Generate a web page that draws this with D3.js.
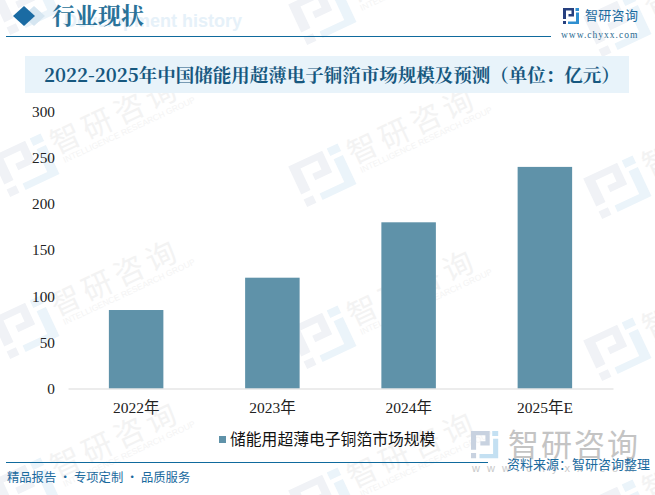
<!DOCTYPE html>
<html>
<head>
<meta charset="utf-8">
<script src="https://cdn.jsdelivr.net/npm/d3@7"></script>
<style>
html, body { margin: 0; padding: 0; background: #fff; }
svg { display: block; }
</style>
</head>
<body>
<svg id="chart" width="655" height="495"></svg>
<script>
const categories = ['2022年', '2023年', '2024年', '2025年E'];
const marketSize = [85, 120, 180, 240];
const yTicks = [0, 50, 100, 150, 200, 250, 300];
const seriesName = '储能用超薄电子铜箔市场规模';
const chartTitle = '2022-2025年中国储能用超薄电子铜箔市场规模及预测（单位：亿元）';
const footerLeft = '精品报告 · 专项定制 · 品质服务';
const footerRight = '资料来源：智研咨询整理';
const watermarkSpots = [[25, 3], [322, 13], [617, 25], [25, 165], [322, 175], [617, 187], [25, 327], [322, 337], [617, 349], [25, 489], [322, 499], [617, 511]];

const serif = '"Noto Serif CJK SC", "Liberation Serif", "DejaVu Serif", "Noto Sans CJK SC", serif';
const sans = '"Noto Sans CJK SC", "Noto Sans", sans-serif';
const blue = '#1a6a9e';

// logo pieces on a 16x16 grid
const logoDark = 'M0,0 H11 V8.5 H5.5 V6 H8.5 V2.5 H3 V11 H0 Z M0,13 H3 V16 H0 Z';
const logoBlue = 'M12.5,0 H16 V3 H12.5 Z M13,4.5 H16 V16 H5 V13.5 H13 Z';

const svg = d3.select('#chart');

function drawLogo(parent, x, y, sx, sy, darkColor, blueColor) {
    const g = parent.append('g').attr('transform', `translate(${x},${y}) scale(${sx},${sy})`);
    g.append('path').attr('d', logoDark).attr('fill', darkColor);
    g.append('path').attr('d', logoBlue).attr('fill', blueColor);
}

// watermark, drawn first so everything sits on top
const marks = svg.append('g').selectAll('g')
    .data(watermarkSpots)
    .enter()
    .append('g')
    .attr('transform', d => `translate(${d[0]},${d[1]}) rotate(-25)`);
marks.each(function() {
    drawLogo(d3.select(this), -27, -22, 3.4, 2.8, '#f0f2f6', '#ebf4fa');
});
marks.append('text')
    .text('智研咨询')
    .attr('x', 33)
    .attr('y', 4)
    .attr('font-family', sans)
    .attr('font-size', 30)
    .attr('letter-spacing', 5)
    .attr('fill', '#f3f3f3');
marks.append('text')
    .text('INTELLIGENCE RESEARCH GROUP')
    .attr('x', 37)
    .attr('y', 15)
    .attr('font-family', 'Liberation Sans')
    .attr('font-size', 8.5)
    .attr('fill', '#f4f4f4');

// header
svg.append('text').text('Development history')
    .attr('x', 242).attr('y', 27)
    .attr('text-anchor', 'end')
    .attr('font-family', 'Liberation Sans').attr('font-weight', 'bold').attr('font-size', 18)
    .attr('fill', '#e6f1f9');
svg.append('path').attr('d', 'M34,6 L45,16 L34,26 L23,16 Z').attr('fill', '#d6e6f1');
svg.append('path').attr('d', 'M24,6 L35,16 L24,26 L13,16 Z').attr('fill', '#1a6ba3');
svg.append('text').text('行业现状')
    .attr('x', 52).attr('y', 24)
    .attr('font-family', serif).attr('font-weight', 'bold').attr('font-size', 23)
    .attr('fill', '#2a7299');
svg.append('line').attr('x1', 6).attr('x2', 551).attr('y1', 36.5).attr('y2', 36.5)
    .attr('stroke', '#0f6a9d').attr('stroke-width', 1);

// logo top right
drawLogo(svg, 563, 8, 1, 1, '#27407f', '#2f8fd0');
svg.append('text').text('智研咨询')
    .attr('x', 585).attr('y', 20)
    .attr('font-family', sans).attr('font-size', 13).attr('letter-spacing', 0.3)
    .attr('fill', '#1a6a9e');
svg.append('text').text('www.chyxx.com')
    .attr('x', 561).attr('y', 38)
    .attr('font-family', 'Liberation Serif').attr('font-size', 9.5).attr('letter-spacing', 1)
    .attr('fill', '#2a6a90');

// title band
svg.append('rect').attr('x', 25).attr('y', 56).attr('width', 604).attr('height', 37).attr('fill', '#e8f3fa');
svg.append('text').text(chartTitle)
    .attr('x', 44).attr('y', 82)
    .attr('font-family', serif).attr('font-weight', 'bold').attr('font-size', 18.5)
    .attr('fill', '#17587f');

// scales and axes
const x = d3.scaleBand().domain(categories).range([68, 613]).paddingInner(0.6).paddingOuter(0.3);
const y = d3.scaleLinear().domain([0, 300]).range([388.5, 111.5]);

svg.selectAll('.bar')
    .data(categories)
    .enter()
    .append('rect')
    .attr('class', 'bar')
    .attr('x', d => x(d))
    .attr('width', x.bandwidth())
    .attr('y', (d, i) => y(marketSize[i]))
    .attr('height', (d, i) => y(0) - y(marketSize[i]))
    .attr('fill', '#5f92a9');

const yAxis = svg.append('g')
    .attr('transform', 'translate(68,0)')
    .call(d3.axisLeft(y).tickValues(yTicks).tickSize(0).tickPadding(13));
yAxis.select('.domain').remove();
yAxis.selectAll('text')
    .attr('font-family', 'Liberation Serif, serif').attr('font-size', 15.3).attr('fill', '#222');

const xAxis = svg.append('g')
    .attr('transform', 'translate(0,388.5)')
    .call(d3.axisBottom(x).tickSize(0).tickPadding(13));
xAxis.select('.domain').attr('stroke', '#d9d9d9').attr('stroke-width', 1.2);
xAxis.selectAll('text')
    .attr('font-family', '"Liberation Serif", "Noto Sans CJK SC", serif').attr('font-size', 15.5).attr('fill', '#222');

// legend
svg.append('rect').attr('x', 219).attr('y', 436).attr('width', 7).attr('height', 7).attr('fill', '#5f92a9');
svg.append('text').text(seriesName)
    .attr('x', 230).attr('y', 445)
    .attr('font-family', sans).attr('font-size', 15.8).attr('fill', '#111');

// footer
drawLogo(svg, 471, 431, 1.7, 1.7, '#c8d2e0', '#c4e0f2');
svg.append('text').text('智研咨询')
    .attr('x', 508).attr('y', 456)
    .attr('font-family', sans).attr('font-size', 31).attr('letter-spacing', 2)
    .attr('fill', '#c4c4c4');
svg.append('text').text('www.chyxx.com')
    .attr('x', 472).attr('y', 472)
    .attr('font-family', 'Liberation Sans').attr('font-size', 11).attr('letter-spacing', 7)
    .attr('fill', '#c9c9c9');
svg.append('line').attr('x1', 6).attr('x2', 488).attr('y1', 462.5).attr('y2', 462.5)
    .attr('stroke', '#0f6a9d').attr('stroke-width', 1);
svg.append('text').text(footerLeft)
    .attr('x', 7).attr('y', 482)
    .attr('font-family', sans).attr('font-size', 12.3)
    .attr('fill', blue);
svg.append('text').text(footerRight)
    .attr('x', 650).attr('y', 469)
    .attr('text-anchor', 'end')
    .attr('font-family', sans).attr('font-size', 13)
    .attr('fill', blue);
</script>
</body>
</html>
